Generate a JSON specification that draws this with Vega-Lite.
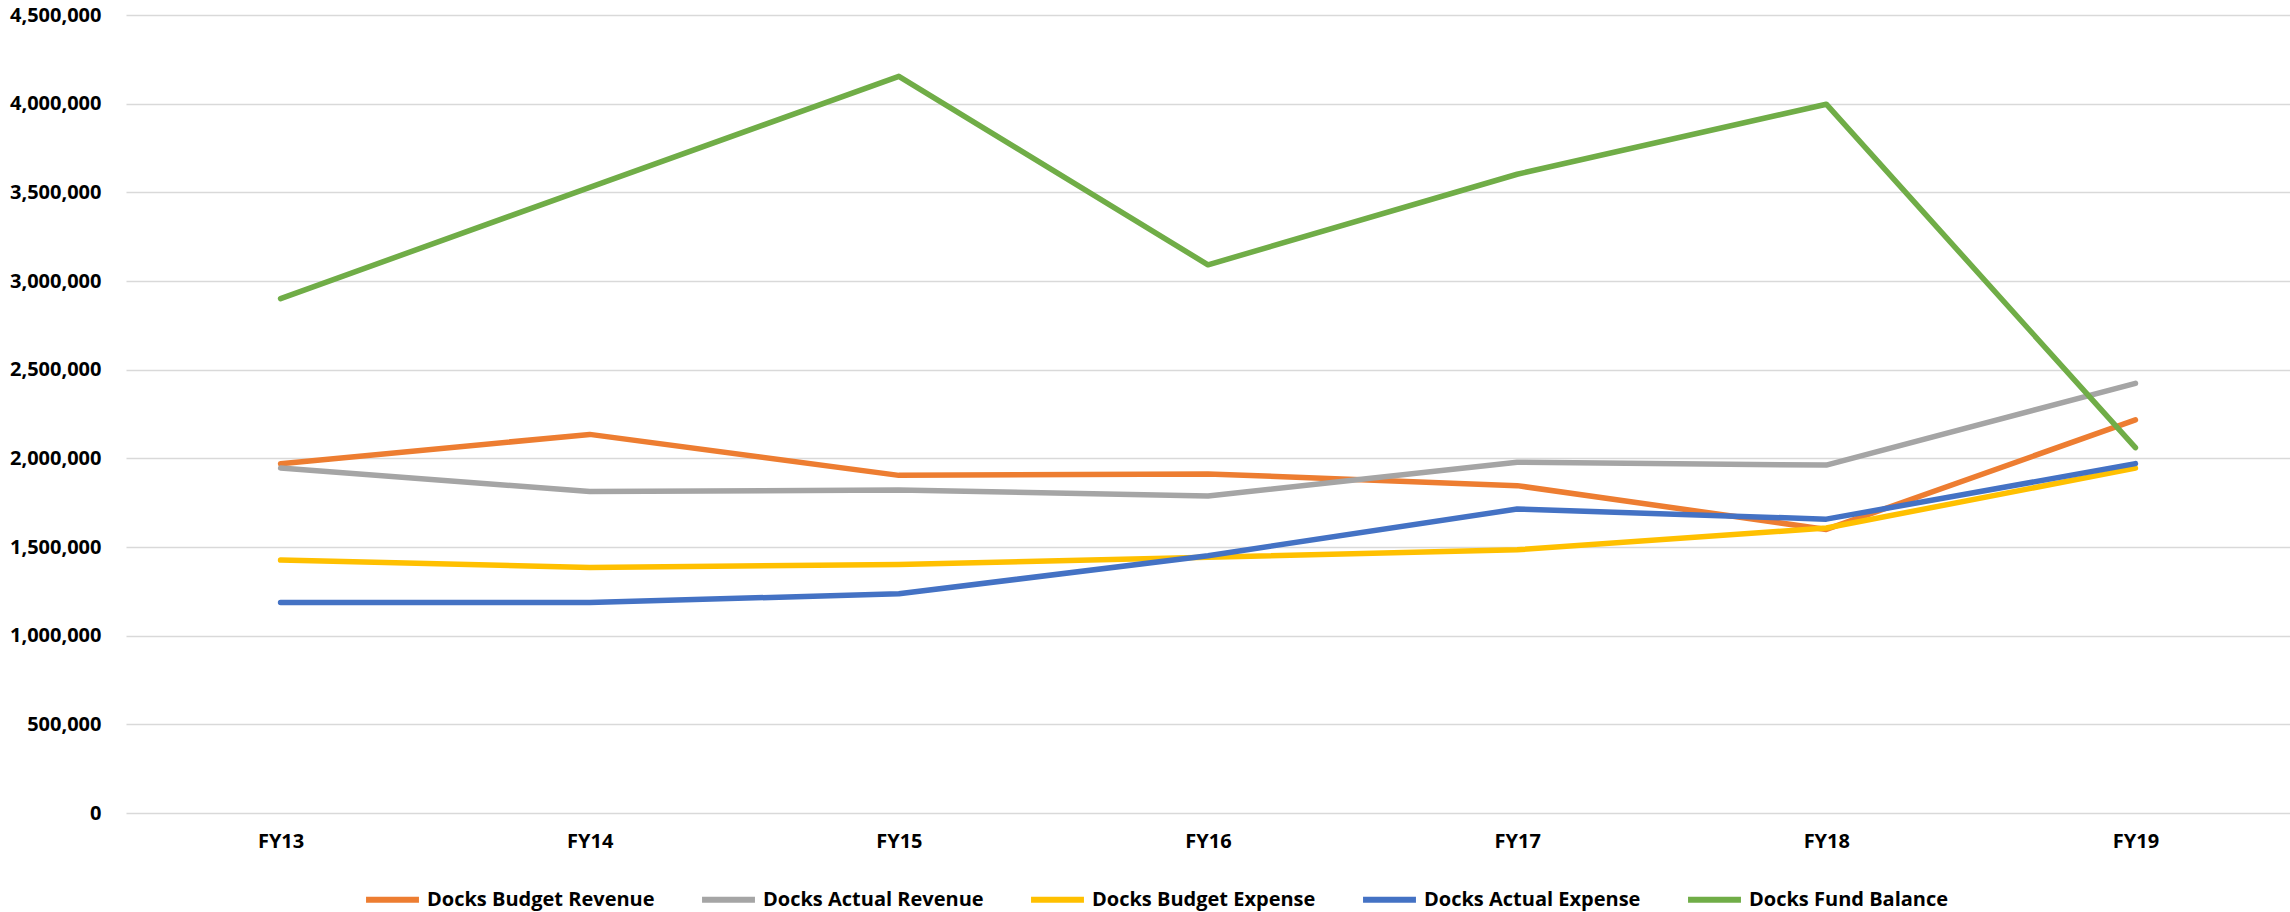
{
  "$schema": "https://vega.github.io/schema/vega-lite/v6.json",
  "autosize": "none",
  "width": 2164,
  "height": 798,
  "padding": {"left": 126, "top": 15, "right": 0, "bottom": 99},
  "background": "white",
  "config": {
    "view": {"stroke": null},
    "font": "Open Sans"
  },
  "data": {
    "values": [
      {"year": "FY13", "series": "Docks Budget Revenue", "value": 1970000},
      {"year": "FY14", "series": "Docks Budget Revenue", "value": 2135000},
      {"year": "FY15", "series": "Docks Budget Revenue", "value": 1904000},
      {"year": "FY16", "series": "Docks Budget Revenue", "value": 1912000},
      {"year": "FY17", "series": "Docks Budget Revenue", "value": 1846000},
      {"year": "FY18", "series": "Docks Budget Revenue", "value": 1599000},
      {"year": "FY19", "series": "Docks Budget Revenue", "value": 2217000},
      {"year": "FY13", "series": "Docks Actual Revenue", "value": 1945000},
      {"year": "FY14", "series": "Docks Actual Revenue", "value": 1813000},
      {"year": "FY15", "series": "Docks Actual Revenue", "value": 1821000},
      {"year": "FY16", "series": "Docks Actual Revenue", "value": 1788000},
      {"year": "FY17", "series": "Docks Actual Revenue", "value": 1978000},
      {"year": "FY18", "series": "Docks Actual Revenue", "value": 1962000},
      {"year": "FY19", "series": "Docks Actual Revenue", "value": 2423000},
      {"year": "FY13", "series": "Docks Budget Expense", "value": 1426000},
      {"year": "FY14", "series": "Docks Budget Expense", "value": 1385000},
      {"year": "FY15", "series": "Docks Budget Expense", "value": 1401000},
      {"year": "FY16", "series": "Docks Budget Expense", "value": 1442000},
      {"year": "FY17", "series": "Docks Budget Expense", "value": 1484000},
      {"year": "FY18", "series": "Docks Budget Expense", "value": 1607000},
      {"year": "FY19", "series": "Docks Budget Expense", "value": 1945000},
      {"year": "FY13", "series": "Docks Actual Expense", "value": 1187000},
      {"year": "FY14", "series": "Docks Actual Expense", "value": 1187000},
      {"year": "FY15", "series": "Docks Actual Expense", "value": 1236000},
      {"year": "FY16", "series": "Docks Actual Expense", "value": 1451000},
      {"year": "FY17", "series": "Docks Actual Expense", "value": 1714000},
      {"year": "FY18", "series": "Docks Actual Expense", "value": 1657000},
      {"year": "FY19", "series": "Docks Actual Expense", "value": 1970000},
      {"year": "FY13", "series": "Docks Fund Balance", "value": 2901000},
      {"year": "FY14", "series": "Docks Fund Balance", "value": 3528000},
      {"year": "FY15", "series": "Docks Fund Balance", "value": 4154000},
      {"year": "FY16", "series": "Docks Fund Balance", "value": 3091000},
      {"year": "FY17", "series": "Docks Fund Balance", "value": 3602000},
      {"year": "FY18", "series": "Docks Fund Balance", "value": 3997000},
      {"year": "FY19", "series": "Docks Fund Balance", "value": 2060000}
    ]
  },
  "mark": {"type": "line", "strokeWidth": 5.5, "strokeCap": "round", "strokeJoin": "round"},
  "encoding": {
    "x": {
      "field": "year",
      "type": "ordinal",
      "scale": {"type": "point", "padding": 0.5},
      "axis": {
        "title": null,
        "labelAngle": 0,
        "domain": false,
        "ticks": false,
        "grid": false,
        "labelFontSize": 20,
        "labelFontWeight": "bold",
        "labelColor": "#000000",
        "labelPadding": 18
      }
    },
    "y": {
      "field": "value",
      "type": "quantitative",
      "scale": {"domain": [0, 4500000], "nice": false},
      "axis": {
        "title": null,
        "values": [0, 500000, 1000000, 1500000, 2000000, 2500000, 3000000, 3500000, 4000000, 4500000],
        "format": ",d",
        "domain": false,
        "ticks": false,
        "grid": true,
        "gridColor": "#D9D9D9",
        "gridWidth": 1.5,
        "labelFontSize": 20,
        "labelFontWeight": "bold",
        "labelColor": "#000000",
        "labelPadding": 25
      }
    },
    "color": {
      "field": "series",
      "type": "nominal",
      "scale": {
        "domain": ["Docks Budget Revenue", "Docks Actual Revenue", "Docks Budget Expense", "Docks Actual Expense", "Docks Fund Balance"],
        "range": ["#ED7D31", "#A5A5A5", "#FFC000", "#4472C4", "#70AD47"]
      },
      "legend": {
        "title": null,
        "orient": "none",
        "direction": "horizontal",
        "legendX": 237,
        "legendY": 855,
        "symbolType": "stroke",
        "symbolSize": 2800,
        "symbolStrokeWidth": 6,
        "labelFontSize": 20,
        "labelFontWeight": "bold",
        "labelColor": "#000000",
        "labelOffset": 5,
        "labelLimit": 400,
        "columnPadding": 35
      }
    }
  }
}
